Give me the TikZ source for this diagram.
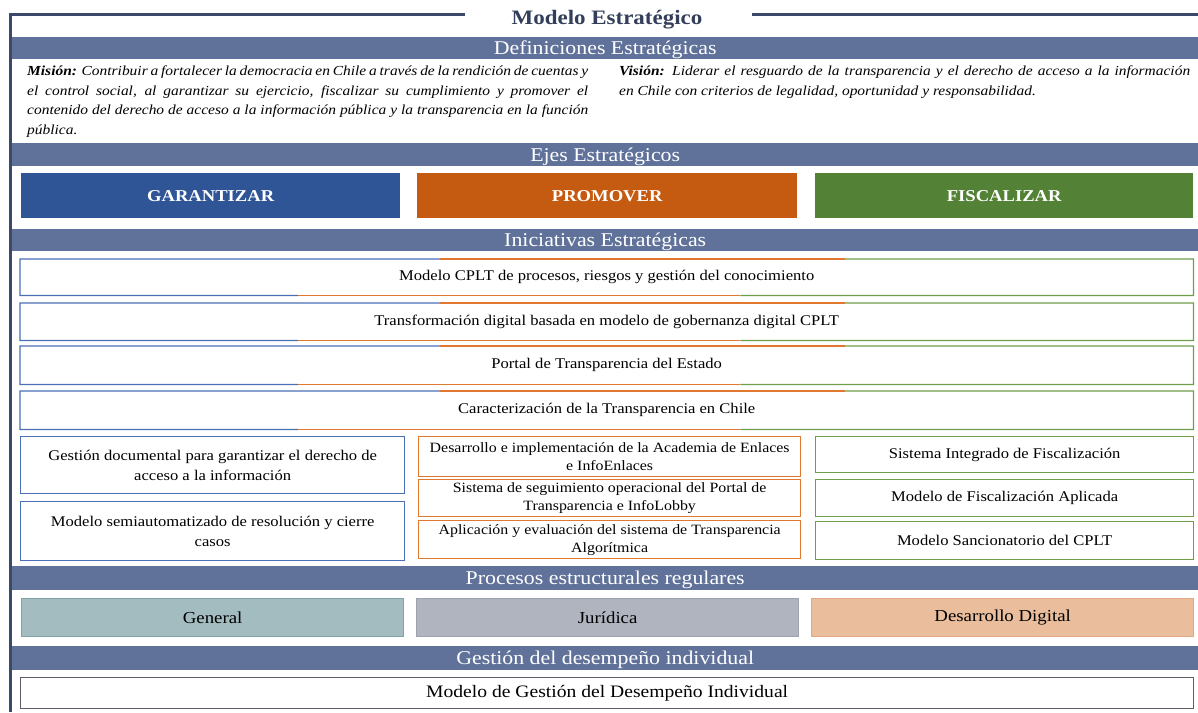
\documentclass[tikz,border=0pt]{standalone}
\usepackage{fontspec}
\setmainfont{Liberation Serif}[FakeStretch=1.12]
\usetikzlibrary{calc}
\definecolor{bandc}{HTML}{60729A}
\definecolor{framec}{HTML}{3B4A6B}
\definecolor{titlec}{HTML}{323E5A}
\definecolor{gblue}{HTML}{2F5597}
\definecolor{porange}{HTML}{C55A11}
\definecolor{fgreen}{HTML}{538135}
\definecolor{eblue}{HTML}{4A6FB5}
\definecolor{eorange}{HTML}{E0782F}
\definecolor{egreen}{HTML}{6E9E4A}
\definecolor{pgen}{HTML}{A3BCBF}
\definecolor{pgenb}{HTML}{82A3A6}
\definecolor{pjur}{HTML}{B0B4BF}
\definecolor{pjurb}{HTML}{9DA2AD}
\definecolor{pdes}{HTML}{EABD9C}
\definecolor{pdesb}{HTML}{E2A986}
\definecolor{lastb}{HTML}{5A5F6A}
\begin{document}
\begin{tikzpicture}[x=1pt,y=-1pt,
  bandbox/.style={fill=bandc, text=white, inner sep=0pt, anchor=north west, minimum width=1186pt, text height=15pt, text depth=2pt, font=\fontsize{19.5}{19.5}\selectfont},
  ejebox/.style={anchor=north west, minimum height=45pt, inner sep=0pt, text=white, font=\fontsize{16.6}{16.6}\selectfont\bfseries},
  inibox/.style={anchor=north west, minimum width=1173pt, inner sep=0pt, font=\fontsize{14.8}{14.8}\selectfont},
  subbox/.style={anchor=north west, inner sep=0pt, draw, line width=1.3pt, align=center, font=\fontsize{14.8}{20}\selectfont},
  midbox/.style={subbox, font=\fontsize{14.2}{18}\selectfont},
  procbox/.style={anchor=north west, inner sep=0pt, draw, line width=1.3pt, minimum width=382pt, minimum height=38pt, font=\fontsize{16.8}{16.8}\selectfont},
  edge/.style={line width=1.3pt},
  deftext/.style={anchor=north west, inner sep=0pt, align=justify, font=\fontsize{13.8}{19.4}\selectfont\itshape}
]
\useasboundingbox (0,0) rectangle (1198,712);
% frame and title
\node[font=\fontsize{20.5}{20.5}\selectfont\bfseries, text=titlec, inner sep=0pt] (title) at (607,20) {Modelo Estratégico};
\coordinate (tl) at (465,14);
\coordinate (tr) at (752,14);
\draw[framec, line width=3pt] (tl) -- (10,14) -- (10,712);
\draw[framec, line width=3pt] (tr) -- (1198,14);
% bands
\node[bandbox, minimum height=22pt] (b1) at (12,37) {Definiciones Estratégicas};
\node[bandbox, minimum height=23pt] (b2) at (12,143) {Ejes Estratégicos};
\node[bandbox, minimum height=22pt] (b3) at (12,229) {Iniciativas Estratégicas};
\node[bandbox, minimum height=24pt] (b4) at (12,566) {Procesos estructurales regulares};
\node[bandbox, minimum height=24pt] (b5) at (12,646) {Gestión del desempeño individual};
% definitions
\node[deftext, text width=561pt] (mision) at (27,66) {\hyphenpenalty=10000\tolerance=10000
\textbf{Misión:} Contribuir a fortalecer la democracia en Chile a través de la rendición de cuentas y\linebreak
el control social, al garantizar su ejercicio, fiscalizar su cumplimiento y promover el\linebreak
contenido del derecho de acceso a la información pública y la transparencia en la función\linebreak
pública.};
\node[deftext, text width=571pt] (vision) at (619,66) {\hyphenpenalty=10000\tolerance=10000
\textbf{Visión:} Liderar el resguardo de la transparencia y el derecho de acceso a la información\linebreak
en Chile con criterios de legalidad, oportunidad y responsabilidad.};
% ejes
\node[ejebox, fill=gblue, minimum width=379pt] (garantizar) at (21,173) {GARANTIZAR};
\node[ejebox, fill=porange, minimum width=380pt] (promover) at (417,173) {PROMOVER};
\node[ejebox, fill=fgreen, minimum width=378pt] (fiscalizar) at (815,173) {FISCALIZAR};
% iniciativas (wide)
\node[inibox, minimum height=36pt] (i1) at (20,259) {Modelo CPLT de procesos, riesgos y gestión del conocimiento};
\node[inibox, minimum height=37pt] (i2) at (20,303) {Transformación digital basada en modelo de gobernanza digital CPLT};
\node[inibox, minimum height=38pt] (i3) at (20,346) {Portal de Transparencia del Estado};
\node[inibox, minimum height=38pt] (i4) at (20,391) {Caracterización de la Transparencia en Chile};
\foreach \n in {i1,i2,i3,i4}{
  \draw[edge, eblue] ($(\n.north west)!0.358!(\n.north east)$) -- (\n.north west) -- (\n.south west) -- ($(\n.south west)!0.237!(\n.south east)$);
  \draw[edge, eorange] ($(\n.north west)!0.358!(\n.north east)$) -- ($(\n.north west)!0.703!(\n.north east)$);
  \draw[edge, eorange] ($(\n.south west)!0.237!(\n.south east)$) -- ($(\n.south west)!0.614!(\n.south east)$);
  \draw[edge, egreen] ($(\n.north west)!0.703!(\n.north east)$) -- (\n.north east) -- (\n.south east) -- ($(\n.south west)!0.614!(\n.south east)$);
}
% left column
\node[subbox, eblue, text=black, minimum width=384pt, minimum height=57pt] (g1) at (20,436) {Gestión documental para garantizar el derecho de\\acceso a la información};
\node[subbox, eblue, text=black, minimum width=384pt, minimum height=59pt] (g2) at (20,501) {Modelo semiautomatizado de resolución y cierre\\casos};
% middle column
\node[midbox, eorange, text=black, minimum width=382pt, minimum height=40pt] (p1) at (418,436) {Desarrollo e implementación de la Academia de Enlaces\\e InfoEnlaces};
\node[midbox, eorange, text=black, minimum width=382pt, minimum height=37pt] (p2) at (418,479) {Sistema de seguimiento operacional del Portal de\\Transparencia e InfoLobby};
\node[midbox, eorange, text=black, minimum width=382pt, minimum height=38pt] (p3) at (418,520) {Aplicación y evaluación del sistema de Transparencia\\Algorítmica};
% right column
\node[subbox, egreen, text=black, minimum width=378pt, minimum height=36pt] (f1) at (815,436) {Sistema Integrado de Fiscalización};
\node[subbox, egreen, text=black, minimum width=378pt, minimum height=37pt] (f2) at (815,479) {Modelo de Fiscalización Aplicada};
\node[subbox, egreen, text=black, minimum width=378pt, minimum height=38pt] (f3) at (815,521) {Modelo Sancionatorio del CPLT};
% procesos
\node[procbox, draw=pgenb, fill=pgen] (general) at (21,598) {General};
\node[procbox, draw=pjurb, fill=pjur] (juridica) at (416,598) {Jurídica};
\node[procbox, draw=pdesb, fill=pdes] (desarrollo) at (811,598) {Desarrollo Digital};
% desempeño
\node[subbox, lastb, text=black, minimum width=1173pt, minimum height=31pt, font=\fontsize{17.5}{17.5}\selectfont] (des) at (20,677) {Modelo de Gestión del Desempeño Individual};
\end{tikzpicture}
\end{document}
